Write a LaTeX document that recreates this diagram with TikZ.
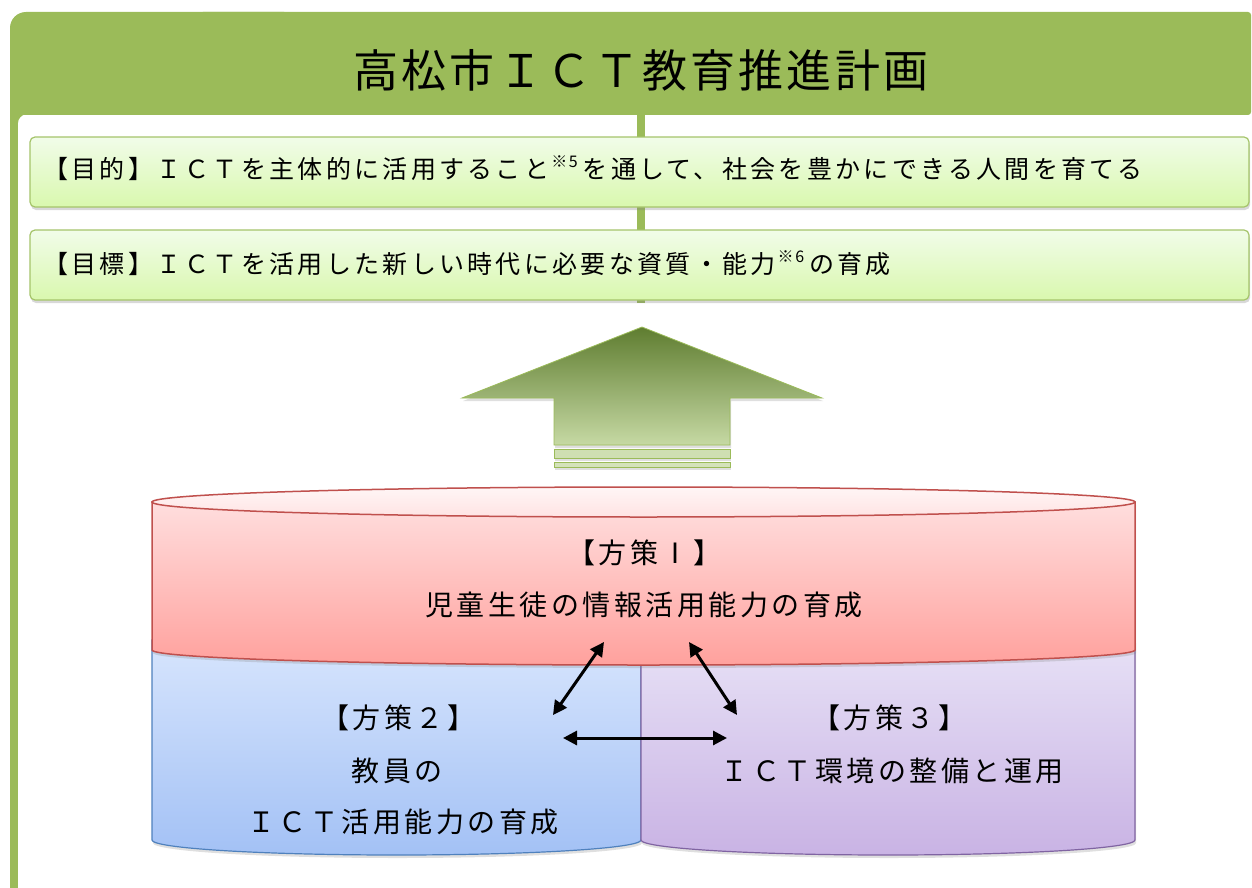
\documentclass[tikz,border=0pt]{standalone}
\usepackage{fontspec}
\newfontfamily\jp{Noto Sans CJK JP}
\usetikzlibrary{arrows.meta,shadows}
\definecolor{hdr}{HTML}{9BBB59}
\definecolor{boxtop}{HTML}{F1FCE9}
\definecolor{boxbot}{HTML}{D9F8AE}
\definecolor{boxline}{HTML}{A5C46A}
\definecolor{arrtop}{HTML}{5F7D30}
\definecolor{arrbot}{HTML}{C6D9A4}
\definecolor{redtop}{HTML}{FFDEDE}
\definecolor{redbot}{HTML}{FFA19D}
\definecolor{redlidA}{HTML}{FFF6F6}
\definecolor{redlidB}{HTML}{FFE3E3}
\definecolor{redline}{HTML}{C0504D}
\definecolor{bluetop}{HTML}{D7E5FD}
\definecolor{bluebot}{HTML}{A3C1F5}
\definecolor{blueline}{HTML}{4F81BD}
\definecolor{purtop}{HTML}{E7E1F6}
\definecolor{purbot}{HTML}{C9B3E4}
\definecolor{purline}{HTML}{8064A2}
\newcommand\jfont[2]{\jp\fontsize{#1}{#1}\selectfont\addfontfeature{LetterSpace=#2}}
\newcommand\kome[1]{\hspace{2pt}\raisebox{0.42em}{\jfont{16}{10}※#1}\hspace{5pt}}
\begin{document}
\begin{tikzpicture}[x=1pt,y=-1pt,
  goal/.style={draw=boxline, line width=1.2pt, rounded corners=5pt, top color=boxtop, bottom color=boxbot,
    minimum width=1219pt, minimum height=70pt, inner sep=0pt,
    drop shadow={opacity=0.3, shadow xshift=1pt, shadow yshift=-3pt}},
  goaltext/.style={anchor=west, inner sep=0pt, font=\jfont{25}{13.2}},
  ctext/.style={inner sep=0pt, font=\jfont{28}{12.5}},
  arrowpart/.style={draw=hdr, line width=0.8pt, drop shadow={opacity=0.25, shadow xshift=1pt, shadow yshift=-3pt}},
  cylshadow/.style={drop shadow={opacity=0.25, shadow xshift=1pt, shadow yshift=-3pt}},
  link/.style={line width=3pt, {Triangle[length=14pt,width=14pt]}-{Triangle[length=14pt,width=14pt]}}
]
\useasboundingbox (0,0) rectangle (1252,888);
\fill[white] (0,0) rectangle (1252,888);
% header frame
\fill[hdr, rounded corners=16pt] (10,12) rectangle (300,115);
\fill[hdr, rounded corners=3pt] (200,12) rectangle (1251,115);
\fill[hdr] (10,60) rectangle (60,115);
\fill[hdr] (10,60) rectangle (18,890);
\fill[hdr] (18,114) -- (26,114) .. controls (21.5,115) and (18,118.5) .. (18,123) -- cycle;
\node[font=\jfont{45}{7}, inner sep=0pt] (title) at (641,70) {高松市ＩＣＴ教育推進計画};
% central line
\fill[hdr] (637,112) rectangle (645,303);
% goal boxes
\node[goal] (purpose) at (639.5,172) {};
\node[goal] (target) at (639.5,265) {};
\node[goaltext] (purposetext) at (43,168) {【目的】ＩＣＴを主体的に活用すること\kome{5}を通して、社会を豊かにできる人間を育てる};
\node[goaltext] (targettext) at (43,263) {【目標】ＩＣＴを活用した新しい時代に必要な資質・能力\kome{6}の育成};
% big arrow
\path[arrowpart, top color=arrtop, bottom color=arrbot] (642,327) -- (822,398) -- (730,398) -- (730,445) -- (554,445) -- (554,398) -- (462,398) -- cycle;
\path[arrowpart, fill=arrbot!85!white] (554,449) rectangle (730,458);
\path[arrowpart, fill=arrbot!75!white] (554,462) rectangle (730,467);
% lower parts
\path[cylshadow, draw=blueline, line width=1.2pt, top color=bluetop, bottom color=bluebot]
  (152,640) -- (152,840) .. controls (152,848.3) and (261.5,855) .. (396.5,855)
  .. controls (531.5,855) and (641,848.3) .. (641,840) -- (641,640) -- cycle;
\path[cylshadow, draw=purline, line width=1.2pt, top color=purtop, bottom color=purbot]
  (641,640) -- (641,840) .. controls (641,848.3) and (751.6,855) .. (888,855)
  .. controls (1024.4,855) and (1135,848.3) .. (1135,840) -- (1135,640) -- cycle;
% red cylinder
\path[cylshadow, draw=redline, line width=1.5pt, top color=redtop, bottom color=redbot]
  (152,502) -- (152,650) .. controls (152,658.3) and (372,665) .. (643.5,665)
  .. controls (915,665) and (1135,658.3) .. (1135,650) -- (1135,502) -- cycle;
\path[draw=redline, line width=1.5pt, top color=redlidA, bottom color=redlidB]
  (643.5,502) ellipse [x radius=491.5pt, y radius=15pt];
% texts
\node[ctext] (p1head) at (644,553) {【方策Ⅰ】};
\node[ctext] (p1body) at (644,605) {児童生徒の情報活用能力の育成};
\node[ctext] (p2head) at (398,718) {【方策２】};
\node[ctext] (p2a) at (397,771) {教員の};
\node[ctext] (p2b) at (403,822) {ＩＣＴ活用能力の育成};
\node[ctext] (p3head) at (889,718) {【方策３】};
\node[ctext] (p3body) at (892,771) {ＩＣＴ環境の整備と運用};
% links
\coordinate (l1a) at (553,715); \coordinate (l1b) at (604,642);
\coordinate (l2a) at (689,642); \coordinate (l2b) at (737,715);
\coordinate (l3a) at (563,738); \coordinate (l3b) at (727,738);
\draw[link] (l1a) -- (l1b);
\draw[link] (l2a) -- (l2b);
\draw[link] (l3a) -- (l3b);
\end{tikzpicture}
\end{document}
